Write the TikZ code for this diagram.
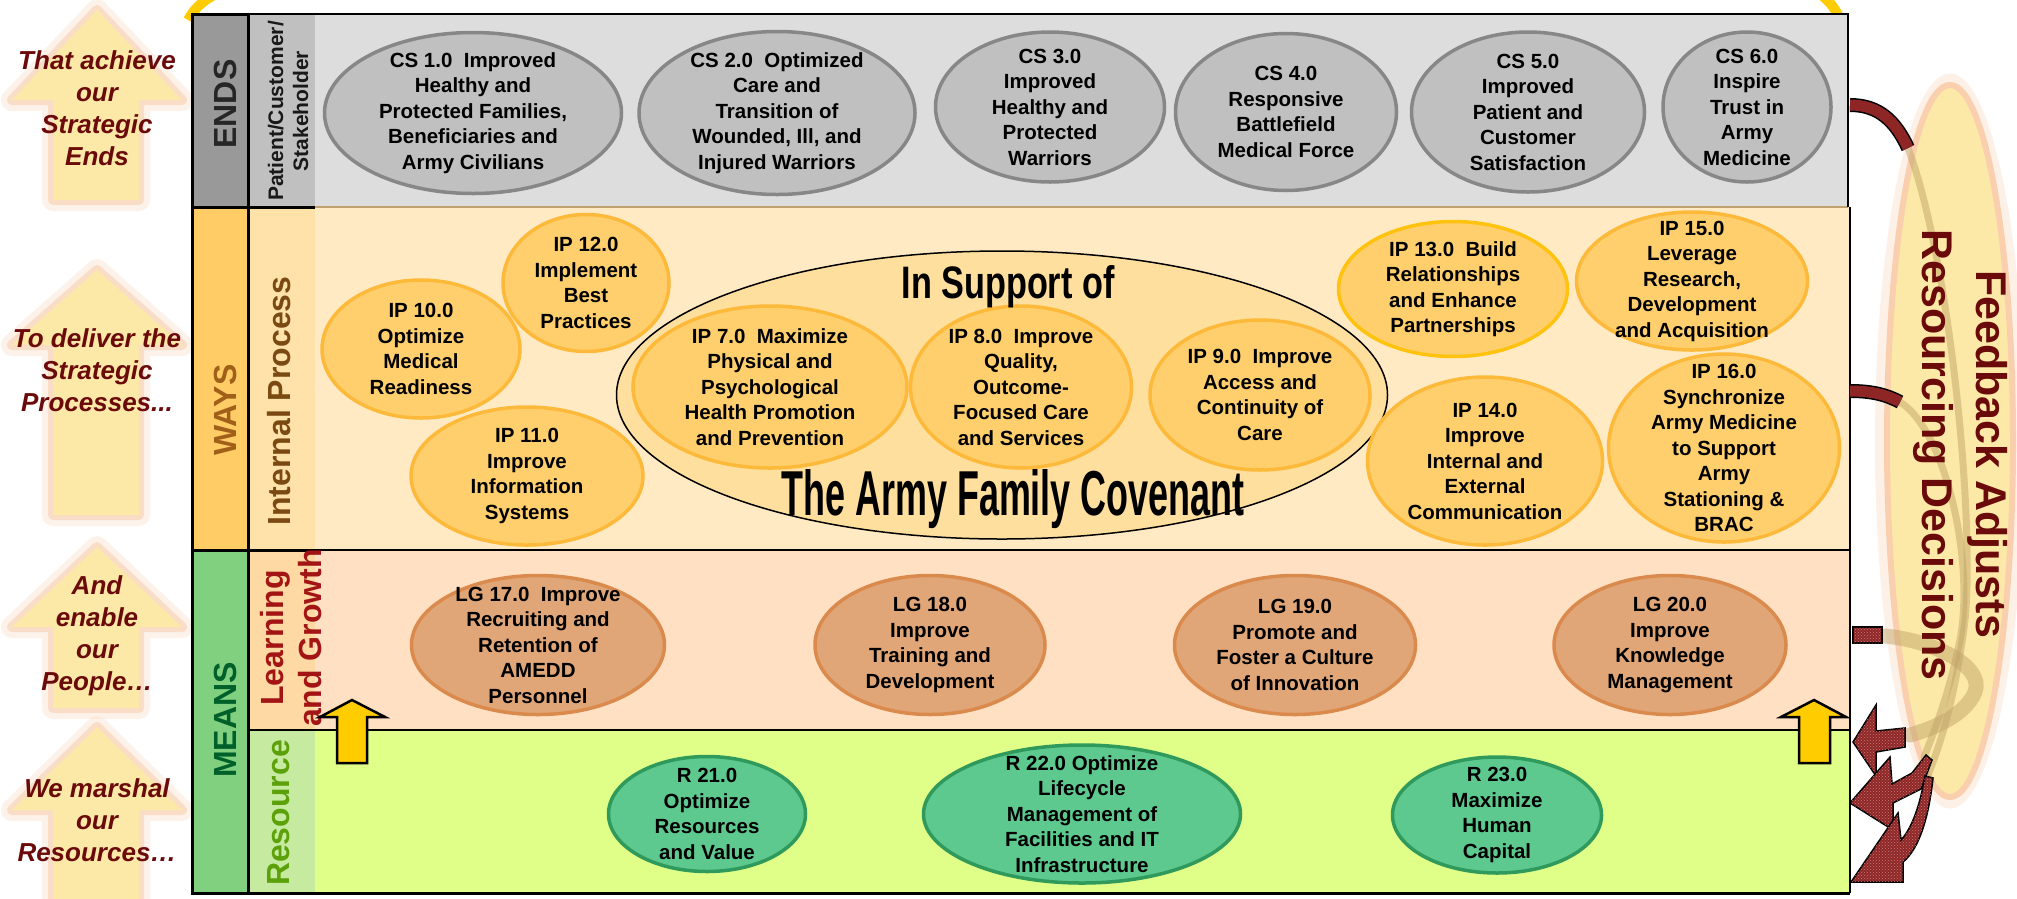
\documentclass[tikz,border=0pt]{standalone}
\usepackage{fontspec}
\setmainfont{Liberation Sans}
\usetikzlibrary{shapes.geometric,patterns}
\definecolor{csfill}{HTML}{C0C0C0}
\definecolor{csdraw}{HTML}{878787}
\definecolor{ipfill}{HTML}{FFCF6E}
\definecolor{ipdraw}{HTML}{FDBA3A}
\definecolor{ipdrawb}{HTML}{FFC20E}
\definecolor{lgfill}{HTML}{E0A678}
\definecolor{lgdraw}{HTML}{DB8A4E}
\definecolor{rsfill}{HTML}{5DC98F}
\definecolor{rsdraw}{HTML}{2F9A5C}
\definecolor{endsbg}{HTML}{DDDDDD}
\definecolor{waysbg}{HTML}{FFEAC4}
\definecolor{lgbg}{HTML}{FFE0C2}
\definecolor{rsbg}{HTML}{E0FF88}
\definecolor{endsc1}{HTML}{999999}
\definecolor{waysc1}{HTML}{FFCC66}
\definecolor{meansc1}{HTML}{80D080}
\definecolor{endsc2}{HTML}{C0C0C0}
\definecolor{waysc2}{HTML}{FFE2AA}
\definecolor{lgc2}{HTML}{FFD9A3}
\definecolor{rsc2}{HTML}{C6EBA0}
\definecolor{covfill}{HTML}{FFDF9E}
\definecolor{darkred}{HTML}{6B0A0A}
\definecolor{glowfill}{HTML}{FCE9A8}
\definecolor{glowedge}{HTML}{F9CFAE}
\definecolor{arrowyellow}{HTML}{FFCC00}
\definecolor{ribboncol}{HTML}{8E2626}
\definecolor{ribdot}{HTML}{C87C7C}
\definecolor{fadecol}{HTML}{C2A468}
\definecolor{waystext}{HTML}{A0601A}
\definecolor{iptext}{HTML}{7B4A12}
\definecolor{meanstext}{HTML}{00602A}
\definecolor{lgtext}{HTML}{A31515}
\definecolor{rstext}{HTML}{5DA10A}
\definecolor{tanline}{HTML}{BFA070}
\newcommand\ellnode[6]{\node[#1, minimum width=#4pt, minimum height=#5pt] (#2) at (#3) {};\node[txt] (#2t) at (#2.center) {#6};}
\newcommand\glowarrow[3]{%
\draw[glowedge, line width=22pt, opacity=0.25, line join=round] (97,#1) -- (182,#2) -- (139,#2) -- (139,#3) -- (53,#3) -- (53,#2) -- (12,#2) -- cycle;
\draw[glowedge, line width=10pt, opacity=0.6, line join=round] (97,#1) -- (182,#2) -- (139,#2) -- (139,#3) -- (53,#3) -- (53,#2) -- (12,#2) -- cycle;
\fill[glowfill] (97,#1) -- (182,#2) -- (139,#2) -- (139,#3) -- (53,#3) -- (53,#2) -- (12,#2) -- cycle;}
\begin{document}
\begin{tikzpicture}[x=1pt,y=-1pt,
  ell/.style={ellipse, inner sep=0pt, line width=3.5pt},
  cs/.style={ell, fill=csfill, draw=csdraw},
  ip/.style={ell, fill=ipfill, draw=ipdraw},
  lg/.style={ell, fill=lgfill, draw=lgdraw},
  rs/.style={ell, fill=rsfill, draw=rsdraw},
  txt/.style={align=center, font=\fontsize{20.5}{25.5}\selectfont\bfseries, inner sep=0pt, text=black},
  lefttxt/.style={align=center, font=\fontsize{26}{32}\selectfont\bfseries\itshape, inner sep=0pt, text=darkred},
  collab/.style={rotate=90, inner sep=0pt, font=\fontsize{32}{32}\selectfont\bfseries},
  sublab/.style={rotate=90, inner sep=0pt, align=center, font=\fontsize{32}{38}\selectfont\bfseries},
  smallarrow/.style={fill=arrowyellow, draw=black, line width=2.5pt, line join=miter},
  rib/.style={draw=black, line width=1.5pt, double=ribboncol, double distance=11pt},
  fade/.style={draw=fadecol, opacity=0.5, line cap=round},
  headstyle/.style={fill=ribboncol, draw=black, line width=1.5pt, line join=miter, postaction={pattern=crosshatch dots, pattern color=ribdot}},
  frame/.style={draw=black, line width=3pt},
  toparc/.style={draw=arrowyellow, line width=10pt}
]
\useasboundingbox (0,0) rectangle (2017,898);
\clip (0,0) rectangle (2017,898);
\fill[white] (0,0) rectangle (2017,898);

% top yellow arc (only its ends show)
\draw[toparc] (188,20) .. controls (198,2) and (212,-6) .. (240,-16);
\draw[toparc] (1800,-16) .. controls (1822,-8) and (1834,4) .. (1840,20);

% left glow arrows
\glowarrow{10}{100}{200}
\glowarrow{270}{345}{515}
\glowarrow{547}{627}{708}
\glowarrow{727}{810}{915}
\node[lefttxt] (t1) at (97,108) {That achieve\\our\\Strategic\\Ends};
\node[lefttxt] (t2) at (97,370) {To deliver the\\Strategic\\Processes...};
\node[lefttxt] (t3) at (97,636) {And\\enable\\our\\People\ldots};
\node[lefttxt] (t4) at (97,820) {We marshal\\our\\Resources\ldots};

% feedback ellipse
\node[ellipse, minimum width=150pt, minimum height=735pt, fill=glowedge, opacity=0.3, inner sep=0pt] (fbglow) at (1950,441) {};
\node[ellipse, minimum width=126pt, minimum height=712pt, fill=glowfill, draw=glowedge, line width=6pt, inner sep=0pt] (fbell) at (1950,441) {};

% row backgrounds
\fill[endsbg] (315,14) rectangle (1848,207);
\fill[waysbg] (315,207) rectangle (1850,550);
\fill[lgbg] (315,550) rectangle (1850,730);
\fill[rsbg] (315,730) rectangle (1850,893);
\fill[endsc2] (248,14) rectangle (315,207);
\fill[waysc2] (248,207) rectangle (315,550);
\fill[lgc2] (248,550) rectangle (315,730);
\fill[rsc2] (248,730) rectangle (315,893);
\fill[endsc1] (192,14) rectangle (248,207);
\fill[waysc1] (192,207) rectangle (248,550);
\fill[meansc1] (192,550) rectangle (248,893);

% grid lines
\draw[tanline, line width=1.5pt] (315,207) -- (1848,207);
\draw[black, line width=1.5pt] (192,14) -- (1848,14) -- (1848,207);
\draw[black, line width=2pt] (1850,207) -- (1850,893);
\draw[black, line width=1.5pt] (315,550) -- (1850,550);
\draw[black, line width=1.5pt] (248,730) -- (1850,730);
\draw[frame] (192,14) rectangle (248,207);
\draw[frame] (192,207) rectangle (248,550);
\draw[frame] (192,550) rectangle (248,893);
\draw[frame] (248,14) -- (248,893);
\draw[frame] (248,207) -- (315,207);
\draw[frame] (248,550) -- (315,550);
\draw[frame] (192,893) -- (1850,893);

% column labels
\node[collab, text=black!85] (ends) at (225,104) {ENDS};
\node[collab, text=waystext] (ways) at (225,410) {WAYS};
\node[collab, text=meanstext] (means) at (225,720) {MEANS};
\node[rotate=90, inner sep=0pt, align=center, font=\fontsize{21}{25}\selectfont\bfseries, text=black!90] (pcs) at (288,111) {Patient/Customer/\\Stakeholder};
\node[sublab, text=iptext] (intp) at (279,401) {Internal Process};
\node[sublab, text=lgtext] (lgl) at (291,638) {Learning\\and Growth};
\node[sublab, text=rstext] (rsl) at (279,813) {Resource};

% ENDS ellipses
\ellnode{cs}{cs1}{473,113}{297}{161}{CS 1.0~~Improved\\Healthy and\\Protected Families,\\Beneficiaries and\\Army Civilians}
\ellnode{cs}{cs2}{777,113}{276}{163}{CS 2.0~~Optimized\\Care and\\Transition of\\Wounded, Ill, and\\Injured Warriors}
\ellnode{cs}{cs3}{1050,107}{229}{150}{CS 3.0\\Improved\\Healthy and\\Protected\\Warriors}
\ellnode{cs}{cs4}{1286,112}{221}{157}{CS 4.0\\Responsive\\Battlefield\\Medical Force}
\ellnode{cs}{cs5}{1528,112}{233}{160}{CS 5.0\\Improved\\Patient and\\Customer\\Satisfaction}
\ellnode{cs}{cs6}{1747,107}{168}{150}{CS 6.0\\Inspire\\Trust in\\Army\\Medicine}

% WAYS
\node[ellipse, draw=black, line width=1.5pt, fill=covfill, minimum width=771pt, minimum height=288pt, inner sep=0pt] (cov) at (1002,395) {};
\ellnode{ip}{ip10}{421,349}{198}{138}{IP 10.0\\Optimize\\Medical\\Readiness}
\ellnode{ip}{ip12}{586,283}{166}{137}{IP 12.0\\Implement\\Best\\Practices}
\ellnode{ip}{ip11}{527,476}{232}{138}{IP 11.0\\Improve\\Information\\Systems}
\ellnode{ip}{ip7}{770,387}{274}{162}{IP 7.0~~Maximize\\Physical and\\Psychological\\Health Promotion\\and Prevention}
\ellnode{ip}{ip8}{1021,387}{221}{162}{IP 8.0~~Improve\\Quality,\\Outcome-\\Focused Care\\and Services}
\ellnode{ip}{ip9}{1260,395}{220}{150}{IP 9.0~~Improve\\Access and\\Continuity of\\Care}
\ellnode{ip, draw=ipdrawb}{ip13}{1453,289}{229}{135}{IP 13.0~~Build\\Relationships\\and Enhance\\Partnerships}
\ellnode{ip}{ip15}{1692,281}{231}{138}{IP 15.0\\Leverage\\Research,\\Development\\and Acquisition}
\ellnode{ip}{ip14}{1485,461}{235}{168}{IP 14.0\\Improve\\Internal and\\External\\Communication}
\ellnode{ip}{ip16}{1724,448}{231}{188}{IP 16.0\\Synchronize\\Army Medicine\\to Support\\Army\\Stationing \&\\BRAC}
\node[anchor=base, inner sep=0pt] (support) at (1008,298) {\resizebox{213pt}{33pt}{\bfseries In Support of}};
\node[anchor=base, inner sep=0pt] (covenant) at (1013,515) {\resizebox{463pt}{46pt}{\bfseries The Army Family Covenant}};

% MEANS
\ellnode{lg}{lg17}{538,645}{253}{139}{LG 17.0~~Improve\\Recruiting and\\Retention of\\AMEDD\\Personnel}
\ellnode{lg}{lg18}{930,645}{230}{139}{LG 18.0\\Improve\\Training and\\Development}
\ellnode{lg}{lg19}{1295,645}{241}{139}{LG 19.0\\Promote and\\Foster a Culture\\of Innovation}
\ellnode{lg}{lg20}{1670,645}{232}{139}{LG 20.0\\Improve\\Knowledge\\Management}
\ellnode{rs}{r21}{707,814}{197}{115}{R 21.0\\Optimize\\Resources\\and Value}
\ellnode{rs}{r22}{1082,814}{317}{138}{R 22.0 Optimize\\Lifecycle\\Management of\\Facilities and IT\\Infrastructure}
\ellnode{rs}{r23}{1497,815}{209}{116}{R 23.0\\Maximize\\Human\\Capital}

% small yellow arrows
\draw[smallarrow] (352,700) -- (385,717) -- (367,717) -- (367,763) -- (337,763) -- (337,717) -- (320,717) -- cycle;
\draw[smallarrow] (1814,700) -- (1846,717) -- (1830,717) -- (1830,763) -- (1799,763) -- (1799,717) -- (1781,717) -- cycle;

% feedback ribbons
\coordinate (fa) at (1850,105);
\coordinate (fb) at (1850,391);
\coordinate (fc) at (1853,627);
\coordinate (ha) at (1851,882);
\coordinate (hb) at (1850,803);
\coordinate (hc) at (1853,742);
\draw[fade, line width=7pt] (1908,148) .. controls (1950,260) and (1975,520) .. (1965,620) .. controls (1955,700) and (1940,745) .. (1928,775);
\draw[fade, line width=7pt] (1900,402) .. controls (1945,430) and (1975,560) .. (1960,640) .. controls (1950,690) and (1935,730) .. (1924,757);
\draw[fade, line width=15pt] (1885,636) .. controls (1930,640) and (1985,665) .. (1975,692) .. controls (1965,715) and (1935,728) .. (1910,735);
\draw[rib] (fa) .. controls (1878,105) and (1895,120) .. (1908,148);
\draw[rib] (fb) .. controls (1870,391) and (1885,394) .. (1900,402);
\draw[headstyle] (fc) rectangle (1882,643);
\draw[headstyle] (hc) -- (1876,705) -- (1876,731) -- (1905,728) -- (1905,747) -- (1876,752) -- (1876,776) -- cycle;
\draw[headstyle] (hb) -- (1890,757) -- (1892,784) -- (1912,773) -- (1926,755) -- (1932,760) -- (1921,789) -- (1893,803) -- (1893,830) -- cycle;
\draw[headstyle] (ha) -- (1898,813) -- (1901,840) .. controls (1912,828) and (1920,805) .. (1925,776) -- (1933,778) .. controls (1929,815) and (1920,848) .. (1903,862) -- (1903,882) -- cycle;

% feedback text
\node[rotate=-90, inner sep=0pt, text=darkred] (fbt1) at (1988,454) {\resizebox{368pt}{!}{\fontsize{40}{40}\selectfont\bfseries Feedback Adjusts}};
\node[rotate=-90, inner sep=0pt, text=darkred] (fbt2) at (1933,455) {\resizebox{451pt}{!}{\fontsize{40}{40}\selectfont\bfseries Resourcing Decisions}};
\end{tikzpicture}
\end{document}
